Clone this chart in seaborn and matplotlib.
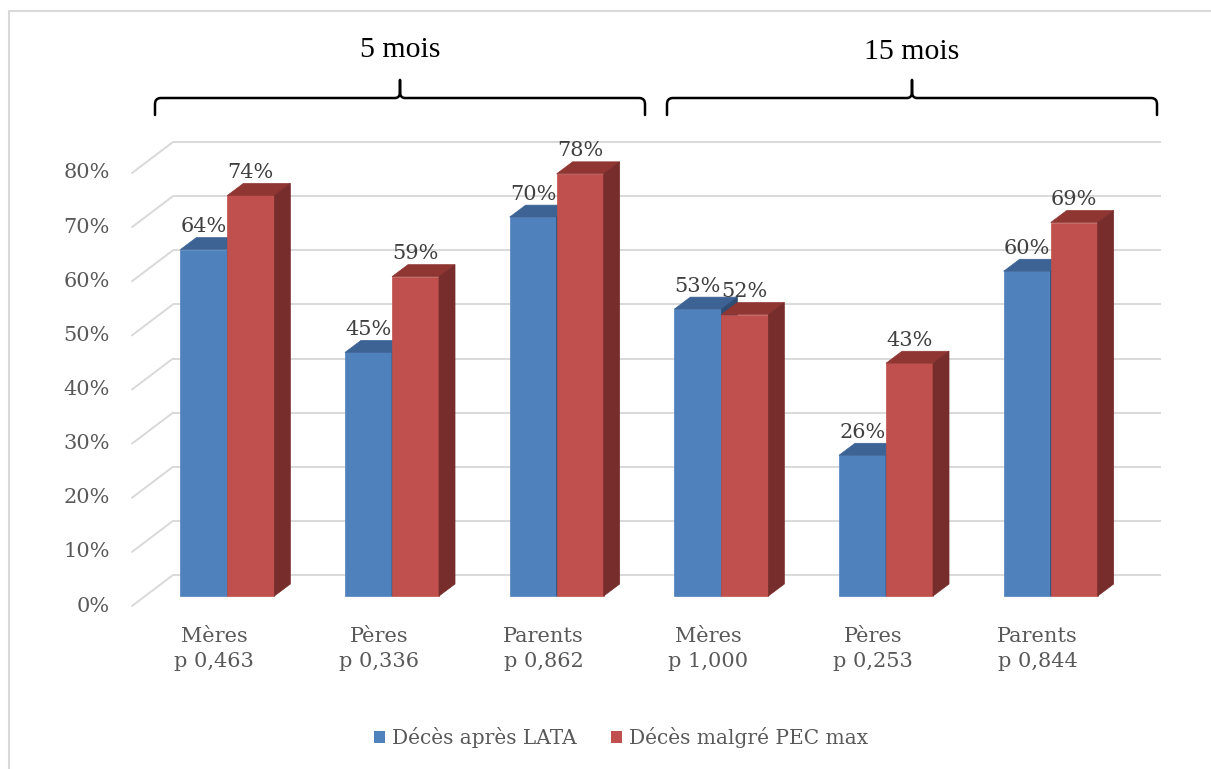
import numpy as np
import pandas as pd
import matplotlib
matplotlib.use("Agg")
import matplotlib.pyplot as plt
import seaborn as sns
from matplotlib.patches import Polygon, Patch, PathPatch
from matplotlib.path import Path

# Données
categories = ["Mères\np 0,463", "Pères\np 0,336", "Parents\np 0,862",
              "Mères\np 1,000", "Pères\np 0,253", "Parents\np 0,844"]
series = ["Décès après LATA", "Décès malgré PEC max"]
deces_lata = [64, 45, 70, 53, 26, 60]
deces_pec = [74, 59, 78, 52, 43, 69]
groupes = ["5 mois", "15 mois"]
yticks = list(range(0, 81, 10))

df = pd.DataFrame({
    "categorie": categories * 2,
    "serie": [series[0]] * len(categories) + [series[1]] * len(categories),
    "valeur": deces_lata + deces_pec,
})

# couleurs
bleu, bleu_haut, bleu_cote = "#4F81BD", "#3D6395", "#2F4D74"
rouge, rouge_haut, rouge_cote = "#C0504D", "#8F3633", "#772D2B"
grille = "#D9D9D9"
gris_txt = "#595959"

W, H = 1211, 769
sns.set_style("white")
plt.rcParams["font.family"] = ["DejaVu Serif", "DejaVu Sans"]

fig = plt.figure(figsize=(W / 100, H / 100), dpi=100)
ax = fig.add_axes([145 / W, 1 - 596 / H, 988 / W, 433 / H])

sns.barplot(data=df, x="categorie", y="valeur", hue="serie", order=categories,
            hue_order=series, palette=[bleu, rouge], width=0.571, saturation=1,
            linewidth=0, errorbar=None, legend=False, ax=ax)
ax.set_xlim(-0.5, len(categories) - 0.5)
ax.set_ylim(0, 80)
ax.axis("off")

# conversion pixels -> unités de données
fig.canvas.draw()
p0 = ax.transData.transform((0, 0))
p1 = ax.transData.transform((1, 1))
px_x, px_y = p1[0] - p0[0], p1[1] - p0[1]


def dpx(dx, dy):
    return dx / px_x, dy / px_y


# mur du fond et lignes de grille (effet 3D)
bx, by = dpx(28, 21)
fx, fy = dpx(-13, -10)
xl, xr = -0.5, len(categories) - 0.5
for v in yticks:
    ax.plot([xl + bx, xr + bx], [v + by, v + by], color=grille, lw=1.4,
            zorder=1, clip_on=False, solid_capstyle="butt")
    ax.plot([xl + fx, xl + bx], [v + fy, v + by], color=grille, lw=1.4,
            zorder=1, clip_on=False)
    ax.text(xl + fx - 22 / px_x, v + fy, f"{v}%", ha="right", va="center",
            fontsize=15, color=gris_txt)

# étiquettes de catégories
for i, c in enumerate(categories):
    ax.text(i + fx, fy - 21 / px_y, c, ha="center", va="top", fontsize=15,
            color=gris_txt, linespacing=1.4)

# faces supérieure et latérale des colonnes
ddx, ddy = dpx(16, 12)
n = len(categories)
for k, p in enumerate(ax.patches[:2 * n]):
    s = k // n
    z = 3 if s == 0 else 5
    face = bleu if s == 0 else rouge
    haut, cote = (bleu_haut, bleu_cote) if s == 0 else (rouge_haut, rouge_cote)
    x0, w, h = p.get_x(), p.get_width(), p.get_height()
    x1 = x0 + w
    p.set_zorder(z)
    p.set_clip_on(False)
    p.set_edgecolor(face)
    p.set_linewidth(0.5)
    ax.add_patch(Polygon([(x0, h), (x1, h), (x1 + ddx, h + ddy), (x0 + ddx, h + ddy)],
                         closed=True, facecolor=haut, edgecolor=haut, lw=0.5,
                         zorder=z, clip_on=False))
    ax.add_patch(Polygon([(x1, 0), (x1, h), (x1 + ddx, h + ddy), (x1 + ddx, ddy)],
                         closed=True, facecolor=cote, edgecolor=cote, lw=0.5,
                         zorder=z, clip_on=False))
    ax.annotate(f"{h:.0f}%", (x0 + w / 2, h), xytext=(0, 16.5), textcoords="offset points",
                ha="center", va="center", fontsize=15, color="#404040", zorder=6,
                annotation_clip=False)

# accolades et titres des périodes
def accolade(x0, x1, xc, y=98, ybas=115, ypointe=80):
    verts = [(x0, ybas), (x0, y + 6), (x0, y), (x0 + 6, y), (xc - 5, y), (xc, y), (xc, y - 6),
             (xc, ypointe), (xc, y - 6), (xc, y), (xc + 5, y), (x1 - 6, y), (x1, y),
             (x1, y + 6), (x1, ybas)]
    codes = [Path.MOVETO, Path.LINETO, Path.CURVE3, Path.CURVE3, Path.LINETO,
             Path.CURVE3, Path.CURVE3, Path.LINETO, Path.LINETO, Path.CURVE3, Path.CURVE3,
             Path.LINETO, Path.CURVE3, Path.CURVE3, Path.LINETO]
    verts = [(vx / W, 1 - vy / H) for vx, vy in verts]
    fig.add_artist(PathPatch(Path(verts, codes), transform=fig.transFigure,
                             facecolor="none", edgecolor="black", lw=1.8,
                             capstyle="round", joinstyle="round"))


accolade(155, 645, 400)
accolade(667, 1157, 912)
fig.text(400 / W, 1 - 50 / H, groupes[0], ha="center", va="center", fontsize=21.5,
         family="Liberation Serif", color="black")
fig.text(912 / W, 1 - 52 / H, groupes[1], ha="center", va="center", fontsize=21.5,
         family="Liberation Serif", color="black")

# cadre (haut et gauche)
fig.add_artist(plt.Line2D([9 / W, 1], [1 - 11 / H, 1 - 11 / H], transform=fig.transFigure,
                          color=grille, lw=1.5))
fig.add_artist(plt.Line2D([9 / W, 9 / W], [0, 1 - 11 / H], transform=fig.transFigure,
                          color=grille, lw=1.5))

# légende
handles = [Patch(facecolor=bleu, edgecolor="none"), Patch(facecolor=rouge, edgecolor="none")]
leg = fig.legend(handles, series, loc="center", bbox_to_anchor=(621 / W, 1 - 738 / H),
                 ncol=2, frameon=False, fontsize=14.5, handlelength=0.55, handleheight=0.55,
                 handletextpad=0.35, columnspacing=1.7)
for t in leg.get_texts():
    t.set_color(gris_txt)

fig.savefig("out.png", dpi=100)
